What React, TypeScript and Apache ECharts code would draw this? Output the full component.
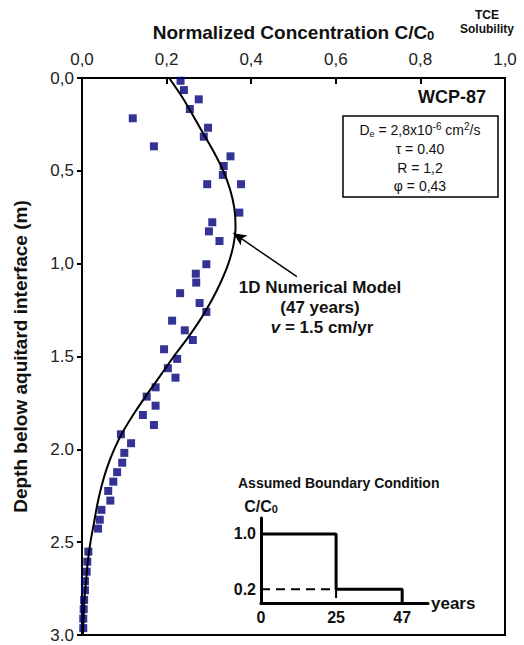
import React, { useEffect, useRef } from "react";
import * as echarts from "echarts";

// Observed data (normalized concentration C/C0 vs depth, m)
const obsC = [0.233, 0.241, 0.276, 0.255, 0.120, 0.298, 0.288, 0.170, 0.351, 0.335, 0.333, 0.296, 0.376, 0.372, 0.308, 0.300, 0.325, 0.294, 0.269, 0.270, 0.232, 0.278, 0.294, 0.213, 0.243, 0.262, 0.194, 0.225, 0.203, 0.221, 0.174, 0.153, 0.174, 0.144, 0.170, 0.092, 0.116, 0.100, 0.095, 0.083, 0.074, 0.062, 0.067, 0.046, 0.042, 0.038, 0.015, 0.0125, 0.011, 0.007, 0.007, 0.005, 0.004, 0.003, 0.003];
const obsDepth = [0.015, 0.065, 0.115, 0.167, 0.217, 0.268, 0.316, 0.368, 0.422, 0.474, 0.522, 0.572, 0.572, 0.725, 0.777, 0.826, 0.878, 1.003, 1.054, 1.102, 1.159, 1.212, 1.26, 1.307, 1.359, 1.411, 1.461, 1.513, 1.563, 1.614, 1.666, 1.716, 1.765, 1.815, 1.869, 1.919, 1.967, 2.019, 2.072, 2.123, 2.174, 2.224, 2.276, 2.326, 2.379, 2.427, 2.551, 2.605, 2.659, 2.71, 2.759, 2.811, 2.861, 2.912, 2.963];

// 1D numerical model curve
const modelC = [0.206, 0.236, 0.262, 0.287, 0.312, 0.334, 0.350, 0.360, 0.363, 0.358, 0.346, 0.328, 0.306, 0.280, 0.250, 0.217, 0.186, 0.155, 0.125, 0.098, 0.076, 0.059, 0.046, 0.036, 0.028, 0.020, 0.014, 0.010, 0.006, 0.004, 0.002];
const modelDepth = [0.0, 0.1, 0.2, 0.3, 0.4, 0.5, 0.6, 0.7, 0.8, 0.9, 1.0, 1.1, 1.2, 1.3, 1.4, 1.5, 1.6, 1.7, 1.8, 1.9, 2.0, 2.1, 2.2, 2.3, 2.4, 2.5, 2.6, 2.7, 2.8, 2.9, 3.0];

// Tick labels
const xTickLabels = ["0,0", "0,2", "0,4", "0,6", "0,8", "1,0"];
const yTickLabels = ["0,0", "0,5", "1,0", "1.5", "2.0", "2.5", "3.0"];

// Assumed boundary condition (inset)
const bcYears = [0, 25, 25, 47, 47];
const bcValues = [1.0, 1.0, 0.2, 0.2, 0];
const bcDashYears = [0, 25, 25];
const bcDashValues = [0.2, 0.2, 0];
const bcYearTicks = [0, 25, 47];
const bcValueTicks = [0.2, 1.0];

// Arrow annotation (data coords)
const arrowFrom = [0.508, 1.07];
const arrowTo = [0.358, 0.836];

const FONT = "'Liberation Sans', Arial, Helvetica, sans-serif";

export default function App() {
  const ref = useRef<HTMLDivElement>(null);
  useEffect(() => {
    if (!ref.current) return;
    const chart = echarts.init(ref.current, null, { renderer: "svg" });
    const option: any = {
      animation: false,
      backgroundColor: "#fff",
      textStyle: { fontFamily: FONT },
      grid: [
        { left: 82, top: 78, right: 19, bottom: 10, show: true, borderColor: "#000", borderWidth: 2, backgroundColor: "transparent" },
        { left: 261, top: 518, width: 167, height: 85 },
      ],
      xAxis: [
        {
          type: "value",
          gridIndex: 0,
          position: "top",
          min: 0,
          max: 1,
          interval: 0.2,
          name: "{a|Normalized Concentration C/C}{b|0}",
          nameLocation: "middle",
          nameGap: 36,
          nameTextStyle: {
            rich: {
              a: { fontSize: 19, fontWeight: "bold", color: "#111", fontFamily: FONT, lineHeight: 22, verticalAlign: "bottom" },
              b: { fontSize: 13, fontWeight: "bold", color: "#111", fontFamily: FONT, verticalAlign: "bottom", lineHeight: 16 },
            },
          },
          axisLine: { lineStyle: { color: "#000", width: 2 } },
          axisTick: { inside: true, length: 6, lineStyle: { color: "#000", width: 2 } },
          axisLabel: {
            margin: 10,
            fontSize: 17,
            color: "#222",
            fontFamily: FONT,
            formatter: (v: number) => xTickLabels[Math.round(v / 0.2)] ?? "",
          },
          splitLine: { show: false },
        },
        {
          type: "value",
          gridIndex: 1,
          min: 0,
          max: 55.6,
          name: "years",
          nameLocation: "end",
          nameGap: 3,
          nameTextStyle: { fontSize: 17, fontWeight: "bold", color: "#111", fontFamily: FONT, verticalAlign: "middle" },
          axisLine: { onZero: false, lineStyle: { color: "#000", width: 3 } },
          axisTick: { show: false },
          axisLabel: { customValues: bcYearTicks, margin: 6, fontSize: 16, fontWeight: "bold", color: "#111", fontFamily: FONT },
          splitLine: { show: false },
        },
      ],
      yAxis: [
        {
          type: "value",
          gridIndex: 0,
          inverse: true,
          min: 0,
          max: 3,
          interval: 0.5,
          name: "Depth below aquitard interface (m)",
          nameLocation: "middle",
          nameGap: 52,
          nameRotate: 90,
          nameTextStyle: { fontSize: 19, fontWeight: "bold", color: "#111", fontFamily: FONT },
          axisLine: { lineStyle: { color: "#000", width: 2 } },
          axisTick: { inside: false, length: 5, lineStyle: { color: "#000", width: 2 } },
          axisLabel: {
            margin: 8,
            fontSize: 17,
            color: "#222",
            fontFamily: FONT,
            formatter: (v: number) => yTickLabels[Math.round(v / 0.5)] ?? "",
          },
          splitLine: { show: false },
        },
        {
          type: "value",
          gridIndex: 1,
          min: 0,
          max: 1.23,
          name: "{a|C/C}{b|0}",
          nameLocation: "end",
          nameGap: 4,
          nameTextStyle: {
            align: "center",
            rich: {
              a: { fontSize: 16, fontWeight: "bold", color: "#111", fontFamily: FONT, lineHeight: 18, verticalAlign: "bottom" },
              b: { fontSize: 11, fontWeight: "bold", color: "#111", fontFamily: FONT, verticalAlign: "bottom", lineHeight: 12 },
            },
          },
          axisLine: { onZero: false, lineStyle: { color: "#000", width: 3 } },
          axisTick: { show: false },
          axisLabel: {
            customValues: bcValueTicks,
            margin: 5,
            fontSize: 16,
            fontWeight: "bold",
            color: "#111",
            fontFamily: FONT,
            formatter: (v: number) => v.toFixed(1),
          },
          splitLine: { show: false },
        },
      ],
      series: [
        {
          type: "scatter",
          xAxisIndex: 0,
          yAxisIndex: 0,
          symbol: "rect",
          symbolSize: 8,
          itemStyle: { color: "#00007c" },
          data: obsC.map((c, i) => [c, obsDepth[i]]),
          z: 3,
        },
        {
          type: "line",
          xAxisIndex: 0,
          yAxisIndex: 0,
          smooth: 0.3,
          showSymbol: false,
          symbol: "none",
          lineStyle: { color: "#000", width: 2 },
          data: modelC.map((c, i) => [c, modelDepth[i]]),
          z: 4,
          markLine: {
            silent: true,
            symbol: ["none", "arrow"],
            symbolSize: [9, 13],
            label: { show: false },
            lineStyle: { color: "#000", width: 1.5, type: "solid" },
            data: [[{ coord: arrowFrom }, { coord: arrowTo }]],
          },
        },
        {
          type: "line",
          xAxisIndex: 1,
          yAxisIndex: 1,
          showSymbol: false,
          symbol: "none",
          lineStyle: { color: "#000", width: 3 },
          data: bcYears.map((y, i) => [y, bcValues[i]]),
        },
        {
          type: "line",
          xAxisIndex: 1,
          yAxisIndex: 1,
          showSymbol: false,
          symbol: "none",
          lineStyle: { color: "#000", width: 2, type: [9, 6] },
          data: bcDashYears.map((y, i) => [y, bcDashValues[i]]),
        },
      ],
      graphic: [
        {
          type: "text",
          x: 487,
          y: 15,
          style: { text: "TCE", align: "center", verticalAlign: "middle", fontSize: 12, fontWeight: "bold", fill: "#111", fontFamily: FONT },
        },
        {
          type: "text",
          x: 487,
          y: 29,
          style: { text: "Solubility", align: "center", verticalAlign: "middle", fontSize: 12, fontWeight: "bold", fill: "#111", fontFamily: FONT },
        },
        {
          type: "text",
          x: 452,
          y: 97,
          style: { text: "WCP-87", fontSize: 18, fontWeight: "bold", fill: "#111", fontFamily: FONT, align: "center", verticalAlign: "middle" },
        },
        {
          type: "rect",
          shape: { x: 343, y: 116, width: 155, height: 81 },
          style: { fill: "#fff", stroke: "#000", lineWidth: 1.5 },
        },
        {
          type: "text",
          x: 420,
          y: 130,
          style: {
            text: "{n|D}{sub|e}{n| = 2,8x10}{sup|-6}{n| cm}{sup|2}{n|/s}",
            align: "center",
            verticalAlign: "middle",
            rich: {
              n: { fontSize: 14, fill: "#111", fontFamily: FONT, lineHeight: 20, verticalAlign: "middle" },
              sub: { fontSize: 9, fill: "#111", fontFamily: FONT, lineHeight: 20, verticalAlign: "bottom", padding: [0, 0, 2, 0] },
              sup: { fontSize: 10, fill: "#111", fontFamily: FONT, lineHeight: 20, verticalAlign: "top", padding: [1, 0, 0, 0] },
            },
          },
        },
        {
          type: "text",
          x: 420,
          y: 149,
          style: { text: "τ = 0.40", fontSize: 14, fill: "#111", fontFamily: FONT, align: "center", verticalAlign: "middle" },
        },
        {
          type: "text",
          x: 420,
          y: 168,
          style: { text: "R = 1,2", fontSize: 14, fill: "#111", fontFamily: FONT, align: "center", verticalAlign: "middle" },
        },
        {
          type: "text",
          x: 420,
          y: 186,
          style: { text: "φ = 0,43", fontSize: 14, fill: "#111", fontFamily: FONT, align: "center", verticalAlign: "middle" },
        },
        {
          type: "text",
          x: 320,
          y: 287,
          style: { text: "1D Numerical Model", fontSize: 17, fontWeight: "bold", fill: "#111", fontFamily: FONT, align: "center", verticalAlign: "middle" },
        },
        {
          type: "text",
          x: 320,
          y: 307,
          style: { text: "(47 years)", fontSize: 17, fontWeight: "bold", fill: "#111", fontFamily: FONT, align: "center", verticalAlign: "middle" },
        },
        {
          type: "text",
          x: 322,
          y: 327,
          style: {
            text: "{i|v}{b| = 1.5 cm/yr}",
            align: "center",
            verticalAlign: "middle",
            rich: {
              i: { fontSize: 17, fontWeight: "bold", fontStyle: "italic", fill: "#111", fontFamily: FONT },
              b: { fontSize: 17, fontWeight: "bold", fill: "#111", fontFamily: FONT },
            },
          },
        },
        {
          type: "text",
          x: 238,
          y: 483,
          style: { text: "Assumed Boundary Condition", fontSize: 14, fontWeight: "bold", fill: "#111", fontFamily: FONT, verticalAlign: "middle" },
        },
      ],
    };
    chart.setOption(option);
    return () => chart.dispose();
  }, []);
  return (
    <div
      ref={ref}
      style={{ position: "fixed", left: 0, top: 0, width: 524, height: 645, background: "#fff" }}
    />
  );
}
